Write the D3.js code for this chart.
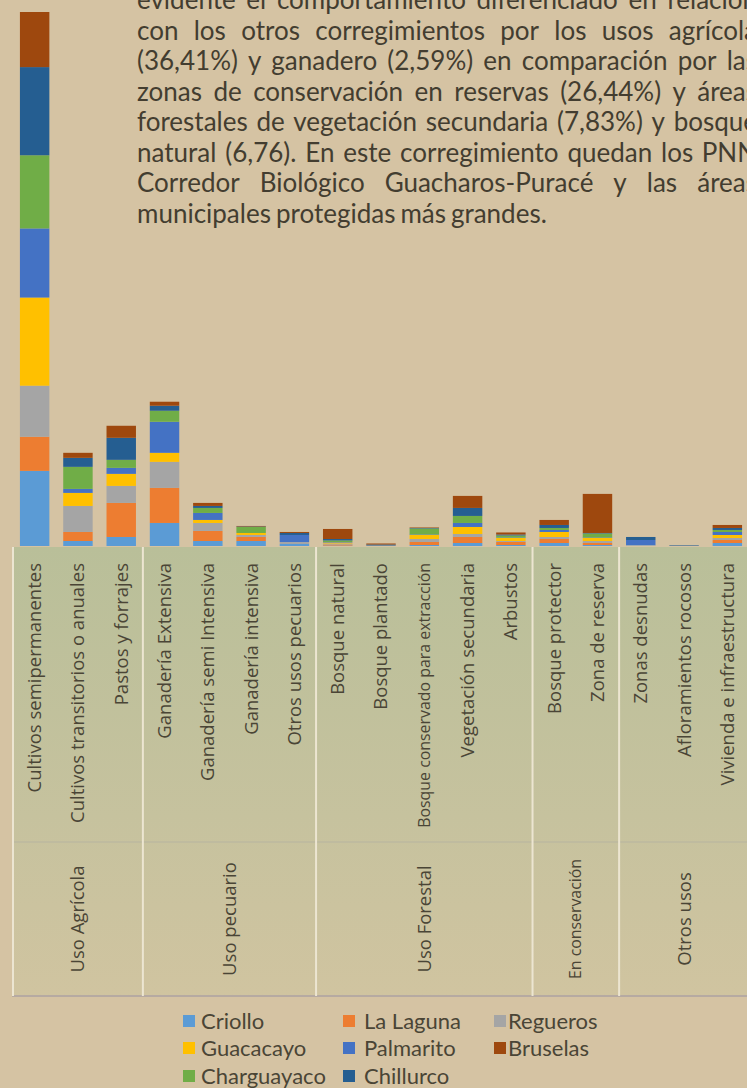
<!DOCTYPE html>
<html>
<head>
<meta charset="utf-8">
<script src="https://cdn.jsdelivr.net/npm/d3@7"></script>
<style>
	body { margin: 0; background: #d5c3a3; }
	svg { display: block; }
</style>
</head>
<body>
<svg id="chart" width="747" height="1088"></svg>
<script>
// categories (bottom axis, level 1) and their groups (level 2)
const categories = [
	'Cultivos semipermanentes', 'Cultivos transitorios o anuales', 'Pastos y forrajes',
	'Ganadería Extensiva', 'Ganadería semi Intensiva', 'Ganadería intensiva', 'Otros usos pecuarios',
	'Bosque natural', 'Bosque plantado', 'Bosque conservado para extracción', 'Vegetación secundaria', 'Arbustos',
	'Bosque protector', 'Zona de reserva',
	'Zonas desnudas', 'Afloramientos rocosos', 'Vivienda e infraestructura'
];
const groups = ['Uso Agrícola', 'Uso pecuario', 'Uso Forestal', 'En conservación', 'Otros usos'];
const groupSizes = [3, 4, 5, 2, 3];

// one array per corregimiento, same order as categories
const criollo     = [75,  5,  9, 23,  5, 5,   2, 0.5, 0,   1,   3,  1,   3,  1,   0.5, 0,   3];
const laLaguna    = [34,  9, 34, 35, 10, 4,   0, 1,   0,   3,   6,  3,   4,  2,   0,   0,   3];
const regueros    = [51, 26, 17, 26,  8, 2,   2, 1,   0.5, 3,   3,  1,   2,  2,   0.5, 0.5, 2];
const guacacayo   = [88, 13, 12,  9,  3, 2,   0, 1,   0,   4,   7,  3,   5,  3,   0,   0,   3];
const palmarito   = [69,  4,  6, 31,  7, 0,   7, 0.5, 0,   0.5, 4,  0.5, 2,  0.5, 5,   0,   3];
const charguayaco = [73, 22,  8, 11,  5, 6,   0, 1.5, 0,   6,   7,  2,   2,  4,   0,   0,   2];
const chillurco   = [88,  9, 22,  5,  2, 0.5, 2, 1.5, 1,   0.5, 8,  1,   3,  0.5, 3,   0.5, 2];
const bruselas    = [55,  5, 12,  4,  3, 0.5, 1, 10,  1,   0.5, 12, 2,   5,  39,  0,   0,   3];

const seriesNames = ['Criollo', 'La Laguna', 'Regueros', 'Guacacayo', 'Palmarito', 'Bruselas', 'Charguayaco', 'Chillurco'];
const stackOrder = ['Criollo', 'La Laguna', 'Regueros', 'Guacacayo', 'Palmarito', 'Charguayaco', 'Chillurco', 'Bruselas'];
const seriesValues = {
	'Criollo': criollo, 'La Laguna': laLaguna, 'Regueros': regueros, 'Guacacayo': guacacayo,
	'Palmarito': palmarito, 'Charguayaco': charguayaco, 'Chillurco': chillurco, 'Bruselas': bruselas
};
const seriesColors = {
	'Criollo': '#5b9bd5', 'La Laguna': '#ed7d31', 'Regueros': '#a5a5a5', 'Guacacayo': '#ffc000',
	'Palmarito': '#4472c4', 'Charguayaco': '#70ad47', 'Chillurco': '#255e91', 'Bruselas': '#9e480e'
};

// paragraph behind the chart (justified, runs past the right edge)
const paragraph = [
	'evidente el comportamiento diferenciado en relación',
	'con los otros corregimientos por los usos agrícola',
	'(36,41%) y ganadero (2,59%) en comparación por las',
	'zonas de conservación en reservas (26,44%) y áreas',
	'forestales de vegetación secundaria (7,83%) y bosque',
	'natural (6,76). En este corregimiento quedan los PNN',
	'Corredor Biológico Guacharos-Puracé y las áreas',
	'municipales protegidas más grandes.'
];

const svg = d3.select('#chart');
const TXT = '#4a4536';

// --- paragraph
let para = svg.append('g').attr('font-family', 'Lato, sans-serif').attr('font-size', 26).attr('fill', '#433d30');
paragraph.forEach((line, i) => {
	let yy = 9 + i * 30.5;
	let t = para.append('text').attr('y', yy);
	let words = line.split(' ');
	let spans = words.map(w => t.append('tspan').text(w));
	let widths = spans.map(s => s.node().getComputedTextLength());
	let last = i === paragraph.length - 1;
	let gap = last ? 5 : (757 - 137 - d3.sum(widths)) / (words.length - 1);
	let xx = 137;
	spans.forEach((s, j) => { s.attr('x', xx); xx += widths[j] + gap; });
});

// --- scales
let table = categories.map((c, i) => {
	let row = { cat: c };
	stackOrder.forEach(s => row[s] = seriesValues[s][i]);
	return row;
});
let stacked = d3.stack().keys(stackOrder)(table);
let totals = table.map(r => d3.sum(stackOrder, s => r[s]));

const x = d3.scaleBand().domain(categories).range([13, 749]).paddingInner(0.32).paddingOuter(0.16);
const y = d3.scaleLinear().domain([0, d3.max(totals)]).range([546, 12]);

// --- axis label area
let defs = svg.append('defs');
let grad = defs.append('linearGradient').attr('id', 'lab').attr('x1', 0).attr('y1', 0).attr('x2', 0).attr('y2', 1);
grad.append('stop').attr('offset', 0).attr('stop-color', '#b9bf99');
grad.append('stop').attr('offset', 0.6).attr('stop-color', '#c6c29e');
grad.append('stop').attr('offset', 1).attr('stop-color', '#d0c4a0');

const axTop = 547, axMid = 842, axBot = 996;
svg.append('rect').attr('x', 12).attr('y', axTop).attr('width', 740).attr('height', axBot - axTop).attr('fill', 'url(#lab)');
svg.append('line').attr('x1', 12).attr('x2', 749).attr('y1', axMid).attr('y2', axMid).attr('stroke', '#bdb99f').attr('stroke-width', 1.5);
svg.append('line').attr('x1', 12).attr('x2', 749).attr('y1', axBot).attr('y2', axBot).attr('stroke', '#b6aaa2').attr('stroke-width', 2);

let start = x.range()[0], step = x.step();
let bounds = [0];
groupSizes.forEach(n => bounds.push(bounds[bounds.length - 1] + n));
svg.append('g').selectAll('line').data(bounds).enter().append('line')
	.attr('x1', d => start + d * step).attr('x2', d => start + d * step)
	.attr('y1', axTop).attr('y2', axBot)
	.attr('stroke', '#ece5d1').attr('stroke-width', 2);

// category labels (rotated, fitted to length)
function fit(sel, size, maxLen, target) {
	sel.each(function() {
		let len = this.getComputedTextLength();
		if (len > maxLen) d3.select(this).attr('font-size', size * target / len);
	});
}
let catLab = svg.append('g').attr('font-family', '"Open Sans", sans-serif').attr('fill', TXT)
	.selectAll('text').data(categories).enter().append('text')
	.attr('transform', d => `translate(${x(d) + x.bandwidth() / 2},563) rotate(-90)`)
	.attr('text-anchor', 'end').attr('dy', '0.35em').attr('font-size', 18.5)
	.text(d => d);
fit(catLab, 18.5, 275, 265);

let grpLab = svg.append('g').attr('font-family', '"Open Sans", sans-serif').attr('fill', TXT)
	.selectAll('text').data(groups).enter().append('text')
	.attr('transform', (d, i) => `translate(${start + (bounds[i] + bounds[i + 1]) / 2 * step},${(axMid + axBot) / 2}) rotate(-90)`)
	.attr('text-anchor', 'middle').attr('dy', '0.35em').attr('font-size', 18.5)
	.text(d => d);
fit(grpLab, 18.5, 130, 120);

// --- bars
svg.append('g').selectAll('g').data(stacked).enter().append('g')
	.attr('fill', d => seriesColors[d.key])
	.selectAll('rect').data(d => d).enter().append('rect')
	.attr('x', d => x(d.data.cat))
	.attr('width', x.bandwidth())
	.attr('y', d => y(d[1]))
	.attr('height', d => y(d[0]) - y(d[1]));

// --- legend
const legCols = [[183, 201], [343, 364], [494, 508]];
const legRows = [1021, 1048, 1076];
let leg = svg.append('g').attr('font-family', 'Lato, sans-serif').attr('font-size', 22).attr('fill', TXT);
seriesNames.forEach((s, i) => {
	let c = legCols[i % 3], r = legRows[Math.floor(i / 3)];
	leg.append('rect').attr('x', c[0]).attr('y', r - 6).attr('width', 12).attr('height', 12).attr('fill', seriesColors[s]);
	leg.append('text').attr('x', c[1]).attr('y', r).attr('dy', '0.35em').text(s);
});
</script>
</body>
</html>
